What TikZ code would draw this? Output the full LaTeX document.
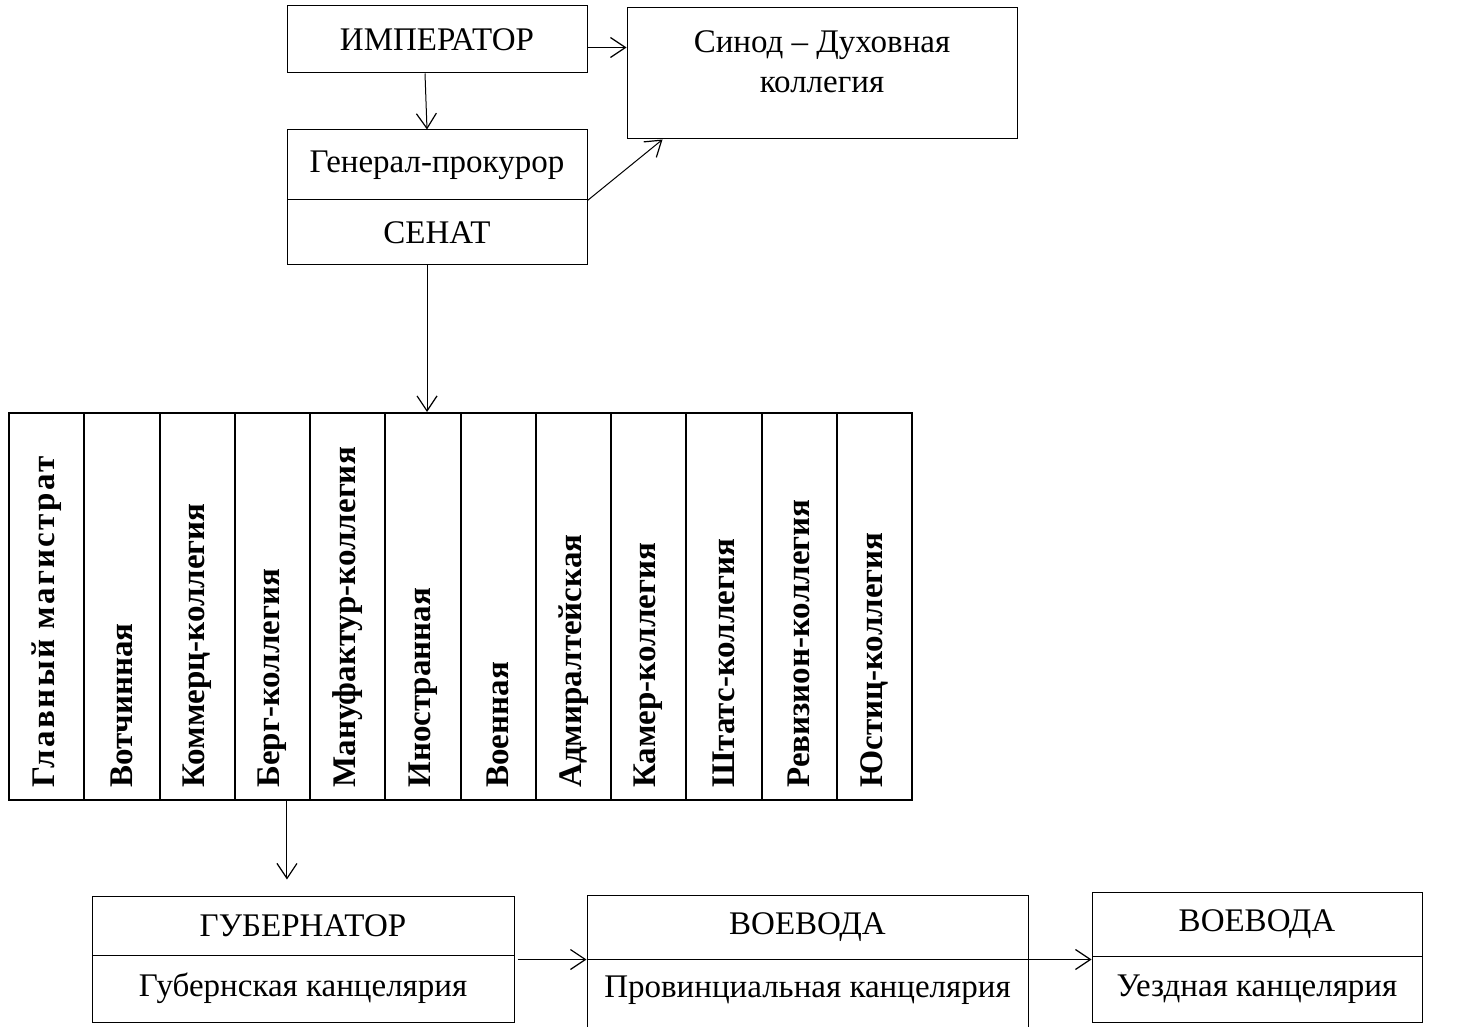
\documentclass[tikz,border=0pt]{standalone}
\usepackage{fontspec}
\setmainfont{Liberation Serif}
\usetikzlibrary{arrows.meta}
\newcommand\myspaced[1]{{\addfontfeature{LetterSpace=7}#1}}
\begin{document}
\begin{tikzpicture}[x=0.5pt,y=-0.5pt,
  txt/.style={font=\fontsize{16.5}{20}\selectfont},
  box/.style={draw, line width=0.5pt, inner sep=0pt, txt},
  col/.style={draw, line width=1pt, inner sep=0pt, minimum width=37.625pt, minimum height=193.5pt},
  coltext/.style={font=\bfseries\fontsize{16.5}{20}\selectfont, rotate=90, anchor=west, inner sep=0pt},
  arr/.style={line width=0.5pt, -{Straight Barb[length=7.5pt,width=10pt,line width=0.6pt]}}]
\useasboundingbox (0,0) rectangle (1457,1027);
% top
\node[box, minimum width=150pt, minimum height=33.5pt] (imp) at (437,39.5) {ИМПЕРАТОР};
\node[box, minimum width=195pt, minimum height=65.5pt] (syn) at (822,73.5) {};
\node[txt, align=center, inner sep=0pt] (syntxt) at (822,62) {Синод – Духовная\\коллегия};
\node[box, minimum width=150pt, minimum height=35pt] (gp) at (437,165) {Генерал-прокурор};
\node[box, minimum width=150pt, minimum height=32.5pt] (sen) at (437,232.5) {СЕНАТ};
\draw[arr] ([xshift=-6pt]imp.south) -- ([xshift=-5pt]gp.north);
\coordinate (a0) at ([yshift=-4pt]imp.east);
\draw[arr] (a0) -- (a0 -| syn.west);
\draw[arr] (gp.south east) -- ([xshift=18pt]syn.south west);
% colleges
\foreach \t [count=\i] in {\myspaced{Главный магистрат}, Вотчинная, Коммерц-коллегия, Берг-коллегия, Мануфактур-коллегия, Иностранная, Военная, Адмиралтейская, Камер-коллегия, Штатс-коллегия, Ревизион-коллегия, Юстиц-коллегия}{
  \node[col] (c\i) at ({9+75.25*(\i-0.5)},606.5) {};
  \node[coltext] (t\i) at ([yshift=6.5pt]c\i.south) {\t};
}
\draw[arr] ([xshift=-5pt]sen.south) -- ([xshift=-5pt]sen.south |- c6.north);
% bottom
\node[box, minimum width=211pt, minimum height=29.5pt] (gubA) at (303,925.5) {ГУБЕРНАТОР};
\node[box, minimum width=211pt, minimum height=33.5pt] (gubB) at (303,988.5) {Губернская канцелярия};
\draw[arr] ([xshift=7.3pt]c4.south) -- ([xshift=7.3pt]c4.south |- gubA.north) [shorten >=8pt];
\node[box, minimum width=220.5pt, minimum height=32pt] (provA) at (807.5,927) {ВОЕВОДА};
\node[box, minimum width=220.5pt, minimum height=40.5pt] (provB) at (807.5,999.5) {};
\node[txt, inner sep=0pt] (provtxt) at (807.5,990) {Провинциальная канцелярия};
\node[box, minimum width=165pt, minimum height=32pt] (uezA) at (1257,924) {ВОЕВОДА};
\node[box, minimum width=165pt, minimum height=33pt] (uezB) at (1257,989) {Уездная канцелярия};
\coordinate (a1) at ([xshift=1.5pt,yshift=-2.5pt]gubB.north east);
\draw[arr] (a1) -- (a1 -| provA.west);
\coordinate (a2) at ([yshift=-0.5pt]provB.north east);
\draw[arr] (a2) -- (a2 -| uezA.west);
\end{tikzpicture}
\end{document}
